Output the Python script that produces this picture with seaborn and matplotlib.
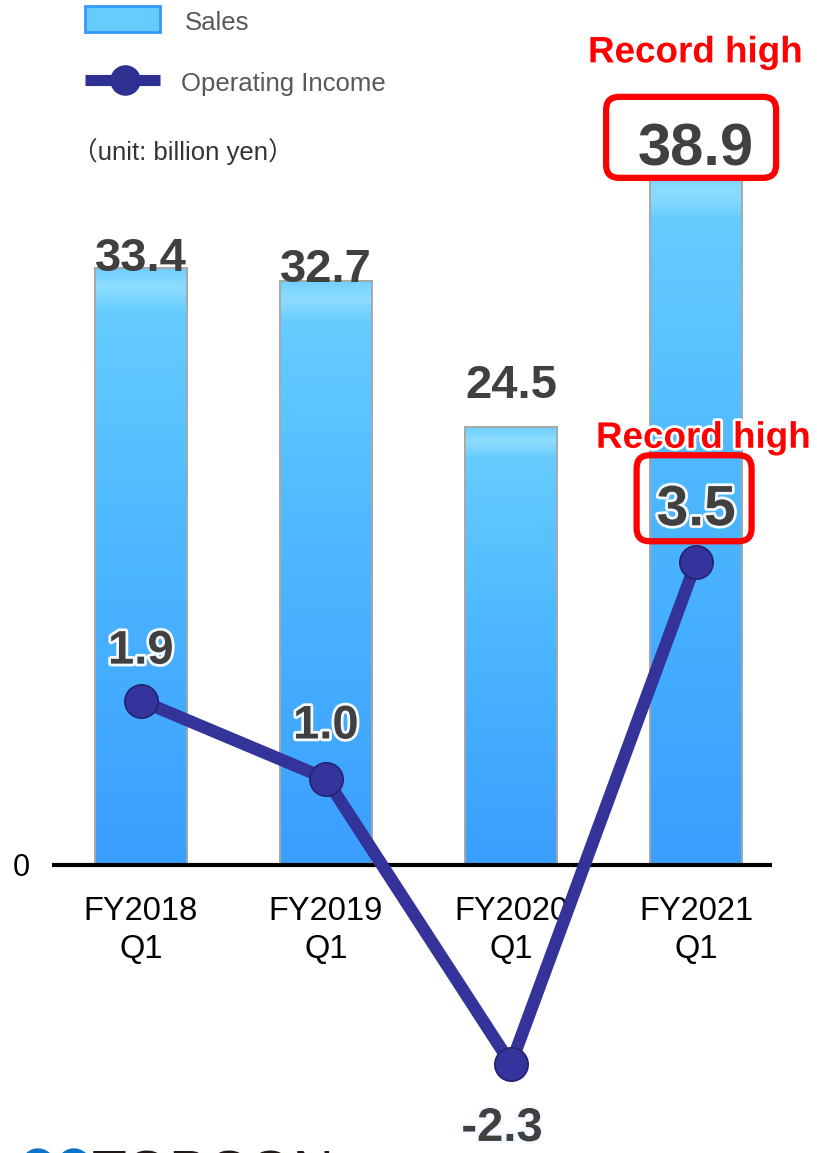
import numpy as np
import pandas as pd
import matplotlib
matplotlib.use("Agg")
import matplotlib.pyplot as plt
import seaborn as sns
from matplotlib.patches import FancyBboxPatch, Rectangle, Ellipse
from matplotlib.lines import Line2D
from matplotlib.colors import LinearSegmentedColormap
from matplotlib.transforms import IdentityTransform
import matplotlib.patheffects as pe

# ---------------- data ----------------
categories = ["FY2018\nQ1", "FY2019\nQ1", "FY2020\nQ1", "FY2021\nQ1"]
sales = [33.4, 32.7, 24.5, 38.9]
operating_income = [1.9, 1.0, -2.3, 3.5]
sales_record = [False, False, False, True]
income_record = [False, False, False, True]
legend_labels = ["Sales", "Operating Income"]
unit_text = "（unit: billion yen）"
record_text = "Record high"

# ---------------- style ----------------
sns.set_theme(style="white")
plt.rcParams['font.family'] = ['Liberation Sans', 'Noto Sans CJK JP', 'DejaVu Sans']

W, H = 817, 1153
ZERO_PX = 865                 # zero line position from top (px)
SALES_PX_PER_UNIT = 17.87
INC_PX_PER_UNIT = 86.5

fig = plt.figure(figsize=(W / 100, H / 100), dpi=100)
fig.patch.set_facecolor("white")
ax = fig.add_axes([52 / W, 0, 720 / W, 1])
ax.set_facecolor("none")

df = pd.DataFrame({"period": categories, "pos": np.arange(len(categories)),
                   "sales": sales, "income": operating_income})

sns.barplot(data=df, x="period", y="sales", ax=ax, width=0.5, color="#4DB3FF",
            edgecolor="#A8A8A8", linewidth=1.3, saturation=1, zorder=2)

xlim = (-0.48, 3.41)
ylim_s = (-(H - ZERO_PX) / SALES_PX_PER_UNIT, ZERO_PX / SALES_PX_PER_UNIT)
ylim_i = (-(H - ZERO_PX) / INC_PX_PER_UNIT, ZERO_PX / INC_PX_PER_UNIT)

# gradient fill for bars
cmap = LinearSegmentedColormap.from_list(
    "bar", [(0.0, "#3A9EFF"), (0.55, "#4DB8FF"), (0.93, "#66CCFF"), (0.97, "#8FDDFF"), (1.0, "#6FD0FF")])
grad = np.linspace(0, 1, 256).reshape(-1, 1)
for p in list(ax.patches):
    x0, w, h = p.get_x(), p.get_width(), p.get_height()
    im = ax.imshow(grad, extent=[x0, x0 + w, 0, h], aspect="auto", cmap=cmap,
                   origin="lower", zorder=2.1, interpolation="bicubic")
    im.set_clip_path(p)
    ax.add_patch(Rectangle((x0, 0), w, h, fill=False, edgecolor="#A8A8A8",
                           linewidth=1.3, zorder=2.2))

ax.set_xlim(*xlim)
ax.set_ylim(*ylim_s)
ax.axhline(0, color="black", lw=3, zorder=3)

# sales labels
sales_offsets = [9, 11, 41, 20]
sales_label_artists = []
for i, v in enumerate(sales):
    big = sales_record[i]
    t = ax.annotate(f"{v:.1f}", (i, v), xytext=(0, sales_offsets[i]),
                    textcoords="offset pixels", ha="center", va="center",
                    fontsize=43 if big else 34, fontweight="bold", color="#404040",
                    zorder=6)
    sales_label_artists.append(t)

# operating income line (secondary axis)
ax2 = ax.twinx()
ax2.set_facecolor("none")
sns.lineplot(data=df, x="pos", y="income", ax=ax2, color="#333399", lw=9,
             marker="o", markersize=24, markerfacecolor="#34349C",
             markeredgecolor="#23236F", markeredgewidth=1.2, legend=False,
             sort=False, zorder=4)
ax2.set_ylim(*ylim_i)
ax2.set_xlim(*xlim)

inc_offsets = [(0, 49), (0, 52), (-9, -65), (0, 52)]
glow = [pe.withStroke(linewidth=4, foreground="#F4FAFF")]
inc_label_artists = []
for i, v in enumerate(operating_income):
    big = income_record[i]
    t = ax2.annotate(f"{v:.1f}", (i, v), xytext=inc_offsets[i],
                     textcoords="offset pixels", ha="center", va="center",
                     fontsize=41 if big else 34, fontweight="bold", color="#404040",
                     path_effects=glow, zorder=7)
    inc_label_artists.append(t)

# axes cosmetics
for a in (ax, ax2):
    for s in a.spines.values():
        s.set_visible(False)
    a.set_xlabel("")
    a.set_ylabel("")
ax.spines["bottom"].set_position(("data", 0))
ax2.set_yticks([])
ax.set_yticks([0])
ax.set_yticklabels(["0"])
ax.set_xticks(range(len(categories)))
ax.set_xticklabels(categories)
ax.tick_params(axis="y", length=0, pad=16, labelsize=22, labelcolor="black")
ax.tick_params(axis="x", length=0, pad=22, labelsize=23.5, labelcolor="black")
for lbl in ax.get_xticklabels():
    lbl.set_linespacing(1.32)

# record-high boxes and captions
fig.canvas.draw()
renderer = fig.canvas.get_renderer()


def record_box(text_artist, dx, dy, bw, bh, face, cap_dy, cap_dx):
    bb = text_artist.get_window_extent(renderer)
    cx, cy = (bb.x0 + bb.x1) / 2 + dx, (bb.y0 + bb.y1) / 2 + dy
    box = FancyBboxPatch((cx - bw / 2, cy - bh / 2), bw, bh,
                         boxstyle="round,pad=0,rounding_size=13",
                         transform=IdentityTransform(), facecolor=face,
                         edgecolor="#FF0000", linewidth=4.5, zorder=5)
    fig.add_artist(box)
    fig.text((cx + cap_dx) / W, (cy + cap_dy) / H, record_text, ha="center",
             va="center", fontsize=26.5, fontweight="bold", color="#FF0000",
             path_effects=[pe.withStroke(linewidth=4, foreground="white")], zorder=8)


for i in range(len(sales)):
    if sales_record[i]:
        t = sales_label_artists[i]
        record_box(t, -5, 12.5, 170, 81, "white", 84.5, 4)
for i in range(len(operating_income)):
    if income_record[i]:
        t = inc_label_artists[i]
        record_box(t, -2, 12, 115, 86, "none", 60, 9)

# re-draw sales record label on top of its white box
for i in range(len(sales)):
    if sales_record[i]:
        t = sales_label_artists[i]
        bb = t.get_window_extent(renderer)
        t.set_visible(False)
        fig.text((bb.x0 + bb.x1) / 2 / W, (bb.y0 + bb.y1) / 2 / H, t.get_text(),
                 ha="center", va="center", fontsize=43, fontweight="bold",
                 color="#404040", zorder=10)

# ---------------- legend (manual, figure pixels) ----------------
def py(y_from_top):
    return (H - y_from_top) / H

fig.add_artist(Rectangle((85 / W, py(32)), 75 / W, 26 / H, transform=fig.transFigure,
                         facecolor="#66CCFF", edgecolor="#3399FF", linewidth=2))
fig.text(185 / W, py(23), legend_labels[0], ha="left", va="center",
         fontsize=18.5, color="#595959")
fig.add_artist(Line2D([85 / W, 160 / W], [py(80), py(80)], transform=fig.transFigure,
                      color="#2E3192", lw=8, solid_capstyle="butt"))
fig.add_artist(Line2D([125 / W], [py(80)], transform=fig.transFigure, marker="o",
                      markersize=21, color="#2E3192", markeredgecolor="#2E3192"))
fig.text(181 / W, py(84), legend_labels[1], ha="left", va="center",
         fontsize=18.5, color="#595959")
fig.text(72 / W, py(152), unit_text, ha="left", va="center",
         fontsize=18.5, color="#333333")

# ---------------- partial logo at bottom ----------------
fig.add_artist(Ellipse((38 / W, py(1180)), 44 / W, 62 / H, angle=-35,
                       transform=fig.transFigure, color="#0A74C9"))
fig.add_artist(Ellipse((74 / W, py(1180)), 44 / W, 62 / H, angle=-35,
                       transform=fig.transFigure, color="#0A74C9"))
fig.text(92 / W, py(1192), "TOPCON", ha="left", va="baseline", fontsize=41,
         color="#231815")

fig.savefig("out.png", dpi=100)
